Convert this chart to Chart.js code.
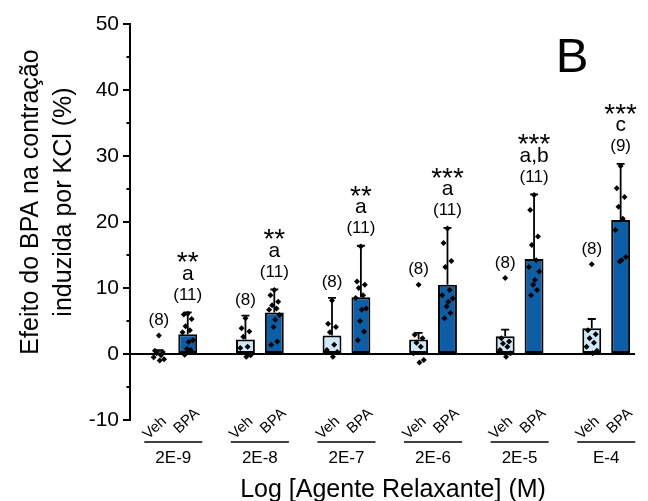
<!DOCTYPE html>
<html><head><meta charset="utf-8">
<script src="https://cdn.jsdelivr.net/npm/chart.js@4.4.1/dist/chart.umd.min.js"></script>
<style>html,body{margin:0;padding:0;background:#fff}#wrap{width:648px;height:501px;position:relative}</style>
</head><body><div id="wrap"><canvas id="c" width="648" height="501"></canvas></div>
<script>
// ---------- data ----------
const groups   = ['2E-9', '2E-8', '2E-7', '2E-6', '2E-5', 'E-4'];
const vehMean  = [0.2, 2.2, 2.8, 2.2, 2.7, 3.9];
const vehErr   = [0.4, 3.6, 5.7, 1.0, 1.0, 1.4];
const bpaMean  = [3.0, 6.3, 8.6, 10.5, 14.4, 20.3];
const bpaErr   = [3.3, 3.5, 7.8, 8.6, 9.8, 8.5];
const vehN     = ['(8)', '(8)', '(8)', '(8)', '(8)', '(8)'];
const bpaN     = ['(11)', '(11)', '(11)', '(11)', '(11)', '(9)'];
const letters  = ['a', 'a', 'a', 'a', 'a,b', 'c'];
const stars    = ['**', '**', '**', '***', '***', '***'];
const vehPoints = [
  [2.8, 0.5, 0.3, 0.1, -0.2, -0.5, -0.8, -1.0],
  [5.4, 3.9, 3.4, 2.6, 1.1, 0.9, -0.2, -0.4],
  [8.1, 4.6, 4.1, 3.3, 1.4, 0.6, 0.3, -0.4],
  [10.5, 2.9, 2.4, 1.7, 1.1, 0.1, -0.9, -1.3],
  [11.5, 2.4, 1.9, 1.6, 1.1, 0.6, 0.1, -0.4],
  [13.6, 3.6, 3.0, 2.4, 1.7, 1.1, 0.5, 0.1]
];
const bpaPoints = [
  [6.1, 6.0, 5.3, 4.2, 3.6, 3.3, 2.1, 1.8, 0.8, 0.6, -0.1],
  [9.7, 8.9, 7.9, 7.4, 6.9, 6.7, 5.9, 5.2, 4.1, 1.9, 1.4],
  [16.3, 11.0, 10.5, 10.0, 8.9, 8.5, 6.9, 6.7, 5.0, 3.4, 2.1],
  [19.0, 16.8, 14.1, 13.2, 9.7, 8.9, 8.4, 7.9, 7.2, 6.2, 5.4],
  [24.1, 21.8, 17.8, 16.5, 14.2, 13.2, 12.5, 11.2, 10.5, 9.7, 8.9],
  [28.5, 25.1, 23.8, 22.3, 20.5, 18.8, 14.7, 14.2, 14.0]
];
const seriesLabels = ['Veh', 'BPA'];
const yTitle = ['Efeito do BPA na contração', 'induzida por KCl (%)'];
const xTitle = 'Log [Agente Relaxante] (M)';
const panelLetter = 'B';

// ---------- style ----------
const FONT = '"Liberation Sans", Arial, Helvetica, sans-serif';
const VEH_COLOR = '#cde8f8';
const BPA_COLOR = '#0c5fa6';
const CAT_PCT = 0.667;
const BAR_SHIFT = CAT_PCT / 4;           // centre offset of each series in a group
const JITTER = [0, -0.045, 0.045, -0.025, 0.025, -0.06, 0.06, 0.01, -0.01, 0.035, -0.035];

function pts(list, side) {
  const out = [];
  list.forEach((arr, i) => arr.forEach((v, k) => out.push({x: i + side * BAR_SHIFT + JITTER[k % JITTER.length], y: v})));
  return out;
}

const deco = {
  id: 'deco',
  afterDatasetDraw(chart, args) {
    if (args.index > 1) return;
    const ctx = chart.ctx, ys = chart.scales.y;
    const means = args.index === 0 ? vehMean : bpaMean;
    const errs = args.index === 0 ? vehErr : bpaErr;
    const meta = chart.getDatasetMeta(args.index);
    ctx.save();
    ctx.strokeStyle = '#000'; ctx.lineWidth = 1.8;
    meta.data.forEach((bar, i) => {
      const y0 = ys.getPixelForValue(means[i]);
      const y1 = ys.getPixelForValue(means[i] + errs[i]);
      ctx.beginPath();
      ctx.moveTo(bar.x, y0); ctx.lineTo(bar.x, y1);
      ctx.moveTo(bar.x - 4, y1); ctx.lineTo(bar.x + 4, y1);
      ctx.stroke();
    });
    ctx.restore();
  },
  afterDraw(chart) {
    const ctx = chart.ctx, ys = chart.scales.y, xs = chart.scales.x, area = chart.chartArea;
    ctx.save();
    ctx.fillStyle = '#000'; ctx.strokeStyle = '#000';
    // minor y ticks
    ctx.lineWidth = 2;
    for (let v = ys.min + 5; v < ys.max; v += 10) {
      const y = Math.round(ys.getPixelForValue(v));
      ctx.beginPath(); ctx.moveTo(area.left - 3.5, y); ctx.lineTo(area.left, y); ctx.stroke();
    }
    // annotations
    ctx.textAlign = 'center';
    ctx.textBaseline = 'alphabetic';
    const vMeta = chart.getDatasetMeta(0), bMeta = chart.getDatasetMeta(1);
    groups.forEach((g, i) => {
      const vTop = ys.getPixelForValue(Math.max(vehMean[i] + vehErr[i], ...vehPoints[i]));
      const bTop = ys.getPixelForValue(Math.max(bpaMean[i] + bpaErr[i], ...bpaPoints[i]));
      const vx = vMeta.data[i].x, bx = bMeta.data[i].x;
      ctx.font = '17px ' + FONT;
      ctx.fillText(vehN[i], vx, vTop - 15 + 4.4);
      ctx.fillText(bpaN[i], bx, bTop - 17 + 4.4);
      ctx.font = '21px ' + FONT;
      ctx.fillText(letters[i], bx, bTop - 38 + 5.5);
      ctx.font = '28px ' + FONT;
      ctx.fillText(stars[i], bx, bTop - 57 + 16);
      // rotated series labels
      ctx.font = '15px ' + FONT;
      [[vx - 4, 428, seriesLabels[0]], [bx - 1, 421, seriesLabels[1]]].forEach(([x, y, t]) => {
        ctx.save(); ctx.translate(x, y); ctx.rotate(-43 * Math.PI / 180);
        ctx.textBaseline = 'middle'; ctx.fillText(t, 0, 0); ctx.restore();
      });
      // underline
      const gx = xs.getPixelForValue(i);
      ctx.lineWidth = 1.5;
      ctx.beginPath(); ctx.moveTo(gx - 29, 442); ctx.lineTo(gx + 29, 442); ctx.stroke();
    });
    // axis titles
    ctx.font = '25px ' + FONT;
    ctx.textAlign = 'center'; ctx.textBaseline = 'alphabetic';
    ctx.fillText(xTitle, 393, 497);
    [[38, yTitle[0]], [71, yTitle[1]]].forEach(([x, t]) => {
      ctx.save(); ctx.translate(x, 202); ctx.rotate(-Math.PI / 2); ctx.fillText(t, 0, 0); ctx.restore();
    });
    // panel letter
    ctx.font = '49px ' + FONT;
    ctx.fillText(panelLetter, 572, 72);
    ctx.restore();
  }
};

new Chart(document.getElementById('c'), {
  type: 'bar',
  data: {
    datasets: [
      {type: 'bar', label: seriesLabels[0], data: vehMean.map((v, i) => ({x: i, y: v})),
       backgroundColor: VEH_COLOR, borderColor: '#000', borderWidth: 2, borderSkipped: false,
       categoryPercentage: CAT_PCT, barPercentage: 0.655, order: 2},
      {type: 'bar', label: seriesLabels[1], data: bpaMean.map((v, i) => ({x: i, y: v})),
       backgroundColor: BPA_COLOR, borderColor: '#000', borderWidth: 2, borderSkipped: false,
       categoryPercentage: CAT_PCT, barPercentage: 0.655, order: 2},
      {type: 'scatter', label: 'Veh pts', data: pts(vehPoints, -1), pointStyle: 'rectRot', radius: 3,
       backgroundColor: '#000', borderWidth: 0, showLine: false, order: 1},
      {type: 'scatter', label: 'BPA pts', data: pts(bpaPoints, 1), pointStyle: 'rectRot', radius: 3,
       backgroundColor: '#000', borderWidth: 0, showLine: false, order: 1}
    ]
  },
  options: {
    responsive: false, animation: false,
    layout: {padding: {top: 24, right: 10, left: 0, bottom: 0}},
    plugins: {legend: {display: false}, tooltip: {enabled: false}},
    scales: {
      x: {
        type: 'linear', min: -0.5, max: 5 + 29 / 87, offset: false,
        grid: {display: false, drawTicks: false},
        border: {display: false},
        afterBuildTicks: s => { s.ticks = groups.map((g, i) => ({value: i})); },
        ticks: {callback: v => groups[v], font: {size: 17, family: FONT}, color: '#000', padding: 28, maxRotation: 0, autoSkip: false},
        afterFit: s => { s.height = 81; }
      },
      y: {
        type: 'linear', min: -10, max: 50,
        grid: {color: c => c.tick && c.tick.value === 0 ? '#000' : 'rgba(0,0,0,0)', lineWidth: 2,
               drawTicks: true, tickLength: 7, tickColor: '#000', tickWidth: 2},
        border: {display: true, color: '#000', width: 2},
        ticks: {stepSize: 10, font: {size: 21, family: FONT}, color: '#000', padding: 4},
        afterFit: s => { s.width = 130; }
      }
    }
  },
  plugins: [deco]
});
</script></body></html>
